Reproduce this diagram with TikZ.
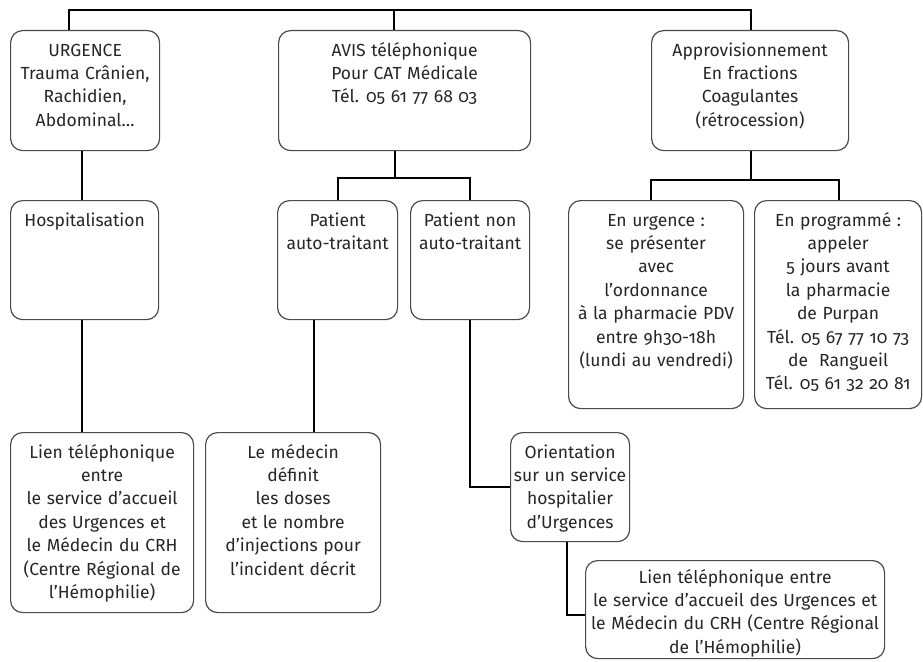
\documentclass[tikz,border=0pt]{standalone}
\usepackage{fontspec}
\setmainfont{Fira Sans}[Numbers=OldStyle, WordSpace=1.2]
\definecolor{ink}{HTML}{262626}
\definecolor{frame}{HTML}{4A4A4A}
\begin{document}
% bx = {width}{height above the last baseline}{depth below it}
\begin{tikzpicture}[x=1pt,y=-1pt,
  bx/.style n args={3}{draw=frame, line width=1.2pt, rounded corners=12pt,
    anchor=north west, inner sep=0pt, align=center, text=ink,
    font=\fontsize{17.5}{23.4}\selectfont,
    minimum width=#1, text height=#2, text depth=#3},
  link/.style={line width=2.7pt, black}]
\useasboundingbox (0,0) rectangle (923,661);

% first row
\node[bx={149pt}{95.7pt}{24.3pt}] (urg) at (10,30) {URGENCE\\Trauma Crânien,\\Rachidien,\\Abdominal\dots};
\node[bx={252pt}{72.3pt}{47.7pt}] (avis) at (278,30) {AVIS téléphonique\\Pour CAT Médicale\\Tél. 05 61 77 68 03};
\node[bx={197pt}{95.7pt}{24.3pt}] (appro) at (651,30) {Approvisionnement\\En fractions\\Coagulantes\\(rétrocession)};

% second row
\node[bx={148pt}{25.5pt}{93.5pt}] (hosp) at (10,200) {Hospitalisation};
\node[bx={120pt}{48.9pt}{70.1pt}] (pat) at (277,200) {Patient\\auto-traitant};
\node[bx={119pt}{48.9pt}{70.1pt}] (patnon) at (410,200) {Patient non\\auto-traitant};
\node[bx={175pt}{165.9pt}{42.1pt}] (enurg) at (568,200) {En urgence :\\se présenter\\avec\\l’ordonnance\\à la pharmacie PDV\\entre 9h30-18h\\(lundi au vendredi)};
\node[bx={167pt}{189.3pt}{18.7pt}] (enprog) at (754,200) {En programmé :\\appeler\\5 jours avant\\la pharmacie\\de Purpan\\Tél. 05 67 77 10 73\\de~ Rangueil\\Tél. 05 61 32 20 81};

% third row
\node[bx={183pt}{165.9pt}{14.1pt}] (lienA) at (10,432) {Lien téléphonique\\entre\\le service d’accueil\\des Urgences et\\le Médecin du CRH\\(Centre Régional de\\l’Hémophilie)};
\node[bx={175pt}{142.5pt}{37.5pt}] (med) at (205,432) {Le médecin\\définit\\les doses\\et le nombre\\d’injections pour\\l’incident décrit};
\node[bx={119pt}{95.7pt}{13.3pt}] (orient) at (510,432) {Orientation\\sur un service\\hospitalier\\d’Urgences};
\node[bx={299pt}{92.7pt}{5.3pt}] (lienB) at (585,560) {Lien téléphonique entre\\le service d’accueil des Urgences et\\le Médecin du CRH (Centre Régional\\de l’Hémophilie)};

% junction points of the connectors
\coordinate (barL) at (69,10);
\coordinate (barM) at (394,10);
\coordinate (barR) at (751,10);
\coordinate (midJ) at (395,178);
\coordinate (patJ) at (338,178);
\coordinate (patnonJ) at (470,178);
\coordinate (rightJ) at (751,180);
\coordinate (enurgJ) at (651,180);
\coordinate (enprogJ) at (839,180);
\coordinate (hospX) at (82,0);
\coordinate (medX) at (314,0);
\coordinate (orientJ) at (470,487);
\coordinate (lienBJ) at (567,615);

% top bar
\draw[link] (urg.north -| barL) -- (barL) -- (barR) -- (appro.north -| barR);
\draw[link] (barM) -- (avis.north -| barM);

% AVIS branch
\draw[link] (avis.south -| midJ) -- (midJ);
\draw[link] (pat.north -| patJ) -- (patJ) -- (patnonJ) -- (patnon.north -| patnonJ);

% supply branch
\draw[link] (appro.south -| rightJ) -- (rightJ);
\draw[link] (enurg.north -| enurgJ) -- (enurgJ) -- (enprogJ) -- (enprog.north -| enprogJ);

% vertical links
\draw[link] (urg.south -| hospX) -- (hosp.north -| hospX);
\draw[link] (hosp.south -| hospX) -- (lienA.north -| hospX);
\draw[link] (pat.south -| medX) -- (med.north -| medX);

% elbow links
\draw[link] (patnon.south -| orientJ) -- (orientJ) -- (orientJ -| orient.west);
\draw[link] (orient.south -| lienBJ) -- (lienBJ) -- (lienBJ -| lienB.west);
\end{tikzpicture}
\end{document}
